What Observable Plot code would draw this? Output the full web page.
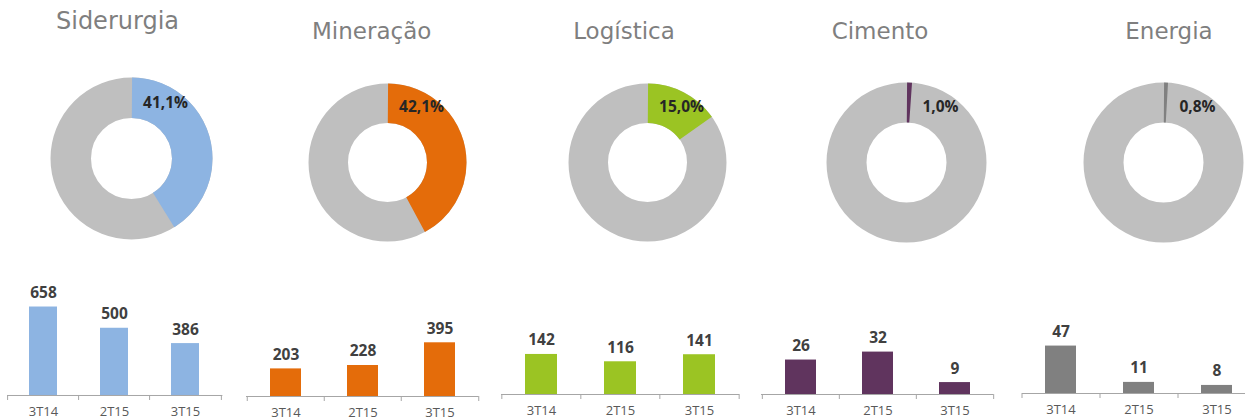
<!DOCTYPE html>
<html><head><meta charset="utf-8">
<script src="https://cdn.jsdelivr.net/npm/d3@7"></script>
<script src="https://cdn.jsdelivr.net/npm/@observablehq/plot@0.6"></script>
<style>
html,body{margin:0;padding:0;background:#fff;overflow:hidden}
#root{position:relative;width:1245px;height:419px;overflow:hidden}
.title{position:absolute;font-family:"DejaVu Sans";color:#7f7f7f;line-height:1;white-space:nowrap;transform:translateX(-50%)}
.panel{position:absolute}
.panel svg{overflow:visible;max-width:none !important;display:block}
</style></head><body><div id="root"></div>
<script>
// ---- data ----
const sectors = ["Siderurgia", "Mineração", "Logística", "Cimento", "Energia"];
const shares = [41.1, 42.1, 15.0, 1.0, 0.8];
const shareLabels = ["41,1%", "42,1%", "15,0%", "1,0%", "0,8%"];
const quarters = ["3T14", "2T15", "3T15"];
const siderurgia = [658, 500, 386];
const mineracao = [203, 228, 395];
const logistica = [142, 116, 141];
const cimento = [26, 32, 9];
const energia = [47, 11, 8];
const seriesBySector = [siderurgia, mineracao, logistica, cimento, energia];

// ---- styles / layout ----
const colors = ["#8db4e2", "#e46c0a", "#9bc423", "#60345e", "#808080"];
const restColor = "#bfbfbf";
const layout = [
  {titleX: 117.5, titleTop: 9,  titleSize: 24, cx: 131, cy: 157.5, R: 81, axis0: 7.3,   axis1: 222.7,  base: 395,   yMax: 818},
  {titleX: 371.7, titleTop: 20, titleSize: 23, cx: 387, cy: 162,   R: 79, axis0: 246,   axis1: 478.5,  base: 395.5, yMax: 809},
  {titleX: 624,   titleTop: 20, titleSize: 23, cx: 647, cy: 162,   R: 79, axis0: 501,   axis1: 739,    base: 394,   yMax: 390},
  {titleX: 880,   titleTop: 20, titleSize: 23, cx: 906, cy: 162,   R: 80, axis0: 761,   axis1: 993,    base: 393.5, yMax: 83},
  {titleX: 1169,  titleTop: 20, titleSize: 23, cx: 1163, cy: 162,  R: 80, axis0: 1021.5, axis1: 1255.5, base: 393,  yMax: 109}
];

const root = document.getElementById("root");
const H = 110, mTop = 22, mBottom = 30, mSide = 2;

sectors.forEach((name, i) => {
  const L = layout[i];
  // title
  const t = document.createElement("div");
  t.className = "title";
  t.textContent = name;
  t.style.left = L.titleX + "px";
  t.style.top = L.titleTop + "px";
  t.style.fontSize = L.titleSize + "px";
  root.appendChild(t);

  // donut
  const D = 2 * L.R + 10;
  const rm = 0.75 * L.R, sw = 0.5 * L.R;
  const C = 2 * Math.PI * rm;
  const len = shares[i] / 100 * C;
  const donut = Plot.plot({
    width: D, height: D, margin: 0,
    style: {background: "transparent"},
    marks: [
      Plot.dot([100], {frameAnchor: "middle", r: rm, fill: "none", stroke: restColor, strokeWidth: sw}),
      Plot.dot([shares[i]], {frameAnchor: "middle", r: rm, fill: "none", stroke: colors[i], strokeWidth: sw,
        strokeDasharray: `${len} ${C - len}`, strokeDashoffset: C / 4}),
      Plot.text([shareLabels[i]], {frameAnchor: "middle", text: d => d, dx: 34, dy: -55,
        fontFamily: "Open Sans", fontWeight: "bold", fontSize: 15.5, fill: "#262626"})
    ]
  });
  const dw = document.createElement("div");
  dw.className = "panel";
  dw.style.left = (L.cx - D / 2) + "px";
  dw.style.top = (L.cy - D / 2) + "px";
  dw.style.width = D + "px";
  dw.appendChild(donut);
  root.appendChild(dw);

  // bars
  const vals = seriesBySector[i];
  const data = quarters.map((q, j) => ({q, v: vals[j]}));
  const step = (L.axis1 - L.axis0) / 3;
  const W = L.axis1 - L.axis0 + 2 * mSide;
  const bars = Plot.plot({
    width: W, height: mTop + H + mBottom,
    marginTop: mTop, marginBottom: mBottom, marginLeft: mSide, marginRight: mSide,
    style: {fontFamily: "Open Sans", fontSize: "13px", color: "#595959", background: "transparent"},
    x: {domain: quarters, paddingInner: 0.6, paddingOuter: 0.3, tickSize: 0, tickPadding: 11, label: null},
    y: {domain: [0, L.yMax], axis: null},
    marks: [
      Plot.barY(data, {x: "q", y: "v", fill: colors[i]}),
      Plot.ruleY([0], {stroke: "#a6a6a6"}),
      Plot.ruleX(quarters, {x: d => d, y1: 0, y2: 0, insetBottom: -5, dx: -step / 2, stroke: "#a6a6a6"}),
      Plot.ruleX([quarters[quarters.length - 1]], {x: d => d, y1: 0, y2: 0, insetBottom: -5, dx: step / 2, stroke: "#a6a6a6"}),
      Plot.text(data, {x: "q", y: "v", text: d => String(d.v), lineAnchor: "bottom", dy: -9,
        fontFamily: "Open Sans", fontWeight: "bold", fontSize: 15.5, fill: "#404040"})
    ]
  });
  const bw = document.createElement("div");
  bw.className = "panel";
  bw.style.left = (L.axis0 - mSide) + "px";
  bw.style.top = (L.base - H - mTop) + "px";
  bw.style.width = W + "px";
  bw.appendChild(bars);
  root.appendChild(bw);
});
</script></body></html>
